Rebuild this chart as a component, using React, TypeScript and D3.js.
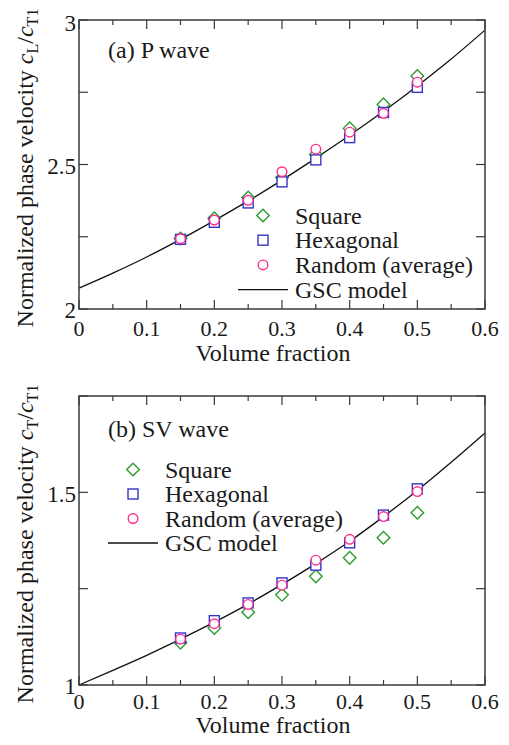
import React from "react";
import * as d3 from "d3";

// ---- data ----
const volumeFractions = [0.15, 0.2, 0.25, 0.3, 0.35, 0.4, 0.45, 0.5];
const gscFractions = [0, 0.05, 0.1, 0.15, 0.2, 0.25, 0.3, 0.35, 0.4, 0.45, 0.5, 0.55, 0.6];

const squareP = [2.244, 2.314, 2.386, 2.455, 2.535, 2.625, 2.708, 2.806];
const hexP = [2.241, 2.300, 2.367, 2.440, 2.516, 2.593, 2.680, 2.767];
const randomP = [2.243, 2.308, 2.376, 2.475, 2.553, 2.612, 2.677, 2.785];
const gscP = [2.072, 2.124, 2.180, 2.241, 2.306, 2.374, 2.446, 2.522, 2.601, 2.684, 2.772, 2.865, 2.965];

const squareSV = [1.110, 1.148, 1.189, 1.234, 1.282, 1.330, 1.382, 1.447];
const hexSV = [1.122, 1.167, 1.213, 1.265, 1.311, 1.369, 1.441, 1.509];
const randomSV = [1.119, 1.159, 1.209, 1.259, 1.324, 1.378, 1.437, 1.502];
const gscSV = [1.0, 1.038, 1.077, 1.119, 1.163, 1.210, 1.261, 1.315, 1.373, 1.437, 1.505, 1.578, 1.654];

const xTickValues = [0, 0.1, 0.2, 0.3, 0.4, 0.5, 0.6];
const xTickLabels = ["0", "0.1", "0.2", "0.3", "0.4", "0.5", "0.6"];
const xMinorTicks = [0.05, 0.15, 0.25, 0.35, 0.45, 0.55];

const yTicksP = [2, 2.25, 2.5, 2.75, 3];
const yLabelsP = [2, 2.5, 3];
const yTickLabelsP = ["2", "2.5", "3"];
const yTicksSV = [1, 1.25, 1.5, 1.75];
const yLabelsSV = [1, 1.5];
const yTickLabelsSV = ["1", "1.5"];

const legendLabels = ["Square", "Hexagonal", "Random (average)", "GSC model"];

const GREEN = "#2f9a2f";
const BLUE = "#3434c6";
const PINK = "#ff2e8c";
const FRAME = "#3a3a3a";
const TEXT = "#1a1a1a";
const FONT = "'Liberation Serif', 'Times New Roman', serif";

const X0 = 79;
const X1 = 485;

function Marker({ kind, x, y }: { kind: string; x: number; y: number }) {
  if (kind === "diamond") {
    const r = 6.3;
    return (
      <path
        d={`M${x},${y - r}L${x + r},${y}L${x},${y + r}L${x - r},${y}Z`}
        fill="white"
        stroke={GREEN}
        strokeWidth={1.4}
      />
    );
  }
  if (kind === "square") {
    const h = 5;
    return <rect x={x - h} y={y - h} width={2 * h} height={2 * h} fill="white" stroke={BLUE} strokeWidth={1.4} />;
  }
  return <circle cx={x} cy={y} r={4.8} fill="white" stroke={PINK} strokeWidth={1.4} />;
}

interface PanelProps {
  top: number;
  bottom: number;
  yDomain: [number, number];
  yTicks: number[];
  yLabels: number[];
  yTickLabels: string[];
  square: number[];
  hex: number[];
  random: number[];
  gsc: number[];
  title: string;
  titleBaseline: number;
  legendX: number;
  legendY0: number;
  legendStep: number;
  xLabelBaseline: number;
  xTitleBaseline: number;
  ySub: string;
  yLabelCenter: number;
}

function Panel(p: PanelProps) {
  const x = d3.scaleLinear().domain([0, 0.6]).range([X0, X1]);
  const y = d3.scaleLinear().domain(p.yDomain).range([p.bottom, p.top]);
  const line = d3
    .line<number>()
    .x((_, i) => x(gscFractions[i]))
    .y((d) => y(d))
    .curve(d3.curveMonotoneX);

  const series: [string, number[]][] = [
    ["diamond", p.square],
    ["square", p.hex],
    ["circle", p.random],
  ];

  const major = 9;
  const minor = 5;

  return (
    <g>
      {xTickValues.map((v) => (
        <g key={"xt" + v}>
          <line x1={x(v)} x2={x(v)} y1={p.bottom} y2={p.bottom - major} stroke={FRAME} strokeWidth={1.2} />
          <line x1={x(v)} x2={x(v)} y1={p.top} y2={p.top + major} stroke={FRAME} strokeWidth={1.2} />
        </g>
      ))}
      {xMinorTicks.map((v) => (
        <g key={"xm" + v}>
          <line x1={x(v)} x2={x(v)} y1={p.bottom} y2={p.bottom - minor} stroke={FRAME} strokeWidth={1.2} />
          <line x1={x(v)} x2={x(v)} y1={p.top} y2={p.top + minor} stroke={FRAME} strokeWidth={1.2} />
        </g>
      ))}
      {p.yTicks.map((v) => (
        <g key={"yt" + v}>
          <line x1={X0} x2={X0 + major} y1={y(v)} y2={y(v)} stroke={FRAME} strokeWidth={1.2} />
          <line x1={X1} x2={X1 - major} y1={y(v)} y2={y(v)} stroke={FRAME} strokeWidth={1.2} />
        </g>
      ))}
      <path d={line(p.gsc) || ""} fill="none" stroke="#111" strokeWidth={1.3} />
      {series.map(([kind, vals]) =>
        vals.map((v, i) => <Marker key={kind + i} kind={kind} x={x(volumeFractions[i])} y={y(v)} />)
      )}
      <rect x={X0} y={p.top} width={X1 - X0} height={p.bottom - p.top} fill="none" stroke={FRAME} strokeWidth={1.5} />
      {xTickValues.map((v, i) => (
        <text key={"xl" + v} x={x(v)} y={p.xLabelBaseline} textAnchor="middle" fontSize={22} fill={TEXT} fontFamily={FONT}>
          {xTickLabels[i]}
        </text>
      ))}
      {p.yLabels.map((v, i) => (
        <text
          key={"yl" + v}
          x={76}
          y={v === p.yDomain[1] ? y(v) + 6 : y(v) + 4}
          textAnchor="end"
          dominantBaseline="middle"
          fontSize={23}
          fill={TEXT}
          fontFamily={FONT}
        >
          {p.yTickLabels[i]}
        </text>
      ))}
      <text x={273} y={p.xTitleBaseline} textAnchor="middle" fontSize={24} fill={TEXT} fontFamily={FONT}>
        Volume fraction
      </text>
      <text
        transform={`translate(33,${p.yLabelCenter}) rotate(-90)`}
        textAnchor="middle"
        fontSize={24}
        fill={TEXT}
        fontFamily={FONT}
      >
        Normalized phase velocity <tspan fontStyle="italic">c</tspan>
        <tspan fontSize={16} dy={5}>{p.ySub}</tspan>
        <tspan dy={-5}>/</tspan>
        <tspan fontStyle="italic">c</tspan>
        <tspan fontSize={16} dy={5}>T1</tspan>
      </text>
      <text x={108} y={p.titleBaseline} fontSize={24} fill={TEXT} fontFamily={FONT}>
        {p.title}
      </text>
      {series.map(([kind], i) => (
        <g key={"lg" + kind}>
          <Marker kind={kind} x={p.legendX} y={p.legendY0 + i * p.legendStep} />
          <text
            x={p.legendX + 32}
            y={p.legendY0 + i * p.legendStep + 8}
            fontSize={24}
            fill={TEXT}
            fontFamily={FONT}
          >
            {legendLabels[i]}
          </text>
        </g>
      ))}
      <line
        x1={p.legendX - 25}
        x2={p.legendX + 25}
        y1={p.legendY0 + 3 * p.legendStep}
        y2={p.legendY0 + 3 * p.legendStep}
        stroke="#111"
        strokeWidth={1.3}
      />
      <text x={p.legendX + 32} y={p.legendY0 + 3 * p.legendStep + 8} fontSize={24} fill={TEXT} fontFamily={FONT}>
        {legendLabels[3]}
      </text>
    </g>
  );
}

export default function App() {
  return (
    <svg
      width={509}
      height={745}
      viewBox="0 0 509 745"
      style={{ position: "absolute", left: 0, top: 0, background: "white" }}
    >
      <rect x={0} y={0} width={509} height={745} fill="white" />
      <Panel
        top={20}
        bottom={309}
        yDomain={[2, 3]}
        yTicks={yTicksP}
        yLabels={yLabelsP}
        yTickLabels={yTickLabelsP}
        square={squareP}
        hex={hexP}
        random={randomP}
        gsc={gscP}
        title="(a) P wave"
        titleBaseline={58}
        legendX={263}
        legendY0={215.5}
        legendStep={24.7}
        xLabelBaseline={336}
        xTitleBaseline={361}
        ySub="L"
        yLabelCenter={168}
      />
      <Panel
        top={396}
        bottom={685}
        yDomain={[1, 1.75]}
        yTicks={yTicksSV}
        yLabels={yLabelsSV}
        yTickLabels={yTickLabelsSV}
        square={squareSV}
        hex={hexSV}
        random={randomSV}
        gsc={gscSV}
        title="(b) SV wave"
        titleBaseline={437}
        legendX={133}
        legendY0={469.5}
        legendStep={24.5}
        xLabelBaseline={709}
        xTitleBaseline={733}
        ySub="T"
        yLabelCenter={544}
      />
    </svg>
  );
}
